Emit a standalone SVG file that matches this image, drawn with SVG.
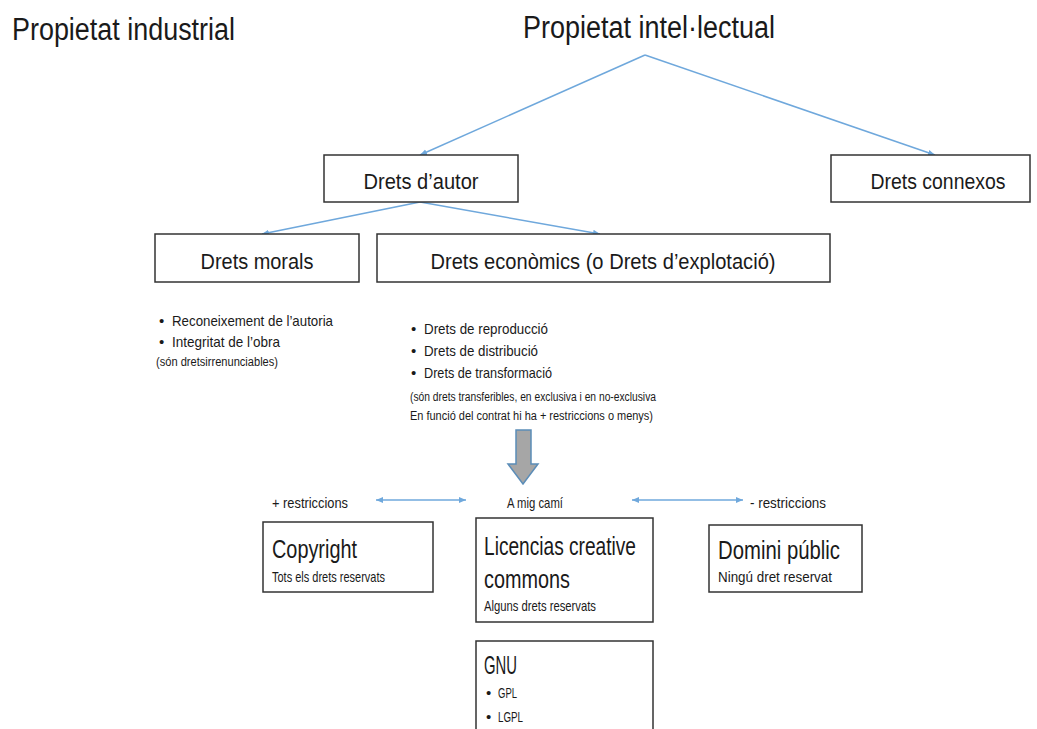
<svg xmlns="http://www.w3.org/2000/svg" width="1037" height="729" viewBox="0 0 1037 729">
<style>
text{font-family:"Liberation Sans",Arial,sans-serif;fill:#1a1a1a}
.t30{font-size:31px}
.t20{font-size:22px}
.t24{font-size:26px}
.t14{font-size:15px}
.t12{font-size:12.5px}
.box{fill:#fff;stroke:#333;stroke-width:1.5}
.con{stroke:#6fa8dc;stroke-width:1.5;fill:none}
</style>
<defs>
<marker id="ah" markerWidth="8" markerHeight="8" refX="7" refY="4" orient="auto" markerUnits="userSpaceOnUse">
<path d="M0,1 L7,4 L0,7 Z" fill="#6fa8dc"/>
</marker>
<marker id="as" markerWidth="8" markerHeight="8" refX="1" refY="4" orient="auto" markerUnits="userSpaceOnUse">
<path d="M8,1 L1,4 L8,7 Z" fill="#6fa8dc"/>
</marker>
</defs>
<g id="titles">
<text class="t30" x="12" y="40" textLength="223" lengthAdjust="spacingAndGlyphs">Propietat industrial</text>
<text class="t30" x="523" y="38" textLength="252" lengthAdjust="spacingAndGlyphs">Propietat intel·lectual</text>
</g>
<g id="connectors">
<polyline class="con" points="420,155 645,55" marker-start="url(#as)"/>
<line class="con" x1="645" y1="55" x2="935" y2="155" marker-end="url(#ah)"/>
<line class="con" x1="420" y1="202" x2="262" y2="234" marker-end="url(#ah)"/>
<line class="con" x1="420" y1="202" x2="600" y2="234" marker-end="url(#ah)"/>
<line class="con" x1="376" y1="500" x2="466" y2="500" marker-start="url(#as)" marker-end="url(#ah)"/>
<line class="con" x1="632" y1="500" x2="743" y2="500" marker-start="url(#as)" marker-end="url(#ah)"/>
<path d="M516,430 H531 V464 H538 L523,484 L508,464 H516 Z" fill="#a6a6a6" stroke="#5b8db8" stroke-width="1.5"/>
</g>
<g id="drets-autor">
<rect class="box" x="324" y="155" width="194" height="47"/>
<text class="t20" x="421" y="189" text-anchor="middle" textLength="115" lengthAdjust="spacingAndGlyphs">Drets d’autor</text>
</g>
<g id="drets-connexos">
<rect class="box" x="831" y="155" width="199" height="47"/>
<text class="t20" x="938" y="189" text-anchor="middle" textLength="135" lengthAdjust="spacingAndGlyphs">Drets connexos</text>
</g>
<g id="drets-morals">
<rect class="box" x="155" y="234" width="204" height="48"/>
<text class="t20" x="257" y="269" text-anchor="middle" textLength="113" lengthAdjust="spacingAndGlyphs">Drets morals</text>
</g>
<g id="drets-economics">
<rect class="box" x="377" y="234" width="453" height="48"/>
<text class="t20" x="603" y="269" text-anchor="middle" textLength="345" lengthAdjust="spacingAndGlyphs">Drets econòmics (o Drets d’explotació)</text>
</g>
<g id="morals-list">
<text class="t14" x="159" y="326">•</text>
<text class="t14" x="172" y="326" textLength="161" lengthAdjust="spacingAndGlyphs">Reconeixement de l’autoria</text>
<text class="t14" x="159" y="347">•</text>
<text class="t14" x="172" y="347" textLength="108" lengthAdjust="spacingAndGlyphs">Integritat de l’obra</text>
<text class="t12" x="156" y="366" textLength="122" lengthAdjust="spacingAndGlyphs">(són dretsirrenunciables)</text>
</g>
<g id="economics-list">
<text class="t14" x="411" y="334">•</text>
<text class="t14" x="424" y="334" textLength="124" lengthAdjust="spacingAndGlyphs">Drets de reproducció</text>
<text class="t14" x="411" y="356">•</text>
<text class="t14" x="424" y="356" textLength="114" lengthAdjust="spacingAndGlyphs">Drets de distribució</text>
<text class="t14" x="411" y="378">•</text>
<text class="t14" x="424" y="378" textLength="128" lengthAdjust="spacingAndGlyphs">Drets de transformació</text>
<text class="t12" x="410" y="401" textLength="246" lengthAdjust="spacingAndGlyphs">(són drets transferibles, en exclusiva i en no-exclusiva</text>
<text class="t12" x="410" y="420" textLength="243" lengthAdjust="spacingAndGlyphs">En funció del contrat hi ha + restriccions o menys)</text>
</g>
<g id="labels">
<text class="t14" x="272" y="508" textLength="76" lengthAdjust="spacingAndGlyphs">+ restriccions</text>
<text class="t14" x="507" y="508" textLength="56" lengthAdjust="spacingAndGlyphs">A mig camí</text>
<text class="t14" x="750" y="508" textLength="76" lengthAdjust="spacingAndGlyphs">- restriccions</text>
</g>
<g id="copyright">
<rect class="box" x="263" y="522" width="170" height="70"/>
<text class="t24" x="272" y="558" textLength="85" lengthAdjust="spacingAndGlyphs">Copyright</text>
<text class="t14" x="272" y="582" textLength="113" lengthAdjust="spacingAndGlyphs">Tots els drets reservats</text>
</g>
<g id="creative-commons">
<rect class="box" x="476" y="518" width="177" height="104"/>
<text class="t24" x="484" y="555" textLength="152" lengthAdjust="spacingAndGlyphs">Licencias creative</text>
<text class="t24" x="484" y="588" textLength="86" lengthAdjust="spacingAndGlyphs">commons</text>
<text class="t14" x="484" y="611" textLength="112" lengthAdjust="spacingAndGlyphs">Alguns drets reservats</text>
</g>
<g id="domini-public">
<rect class="box" x="709" y="525" width="153" height="67"/>
<text class="t24" x="718" y="559" textLength="122" lengthAdjust="spacingAndGlyphs">Domini públic</text>
<text class="t14" x="718" y="582" textLength="114" lengthAdjust="spacingAndGlyphs">Ningú dret reservat</text>
</g>
<g id="gnu">
<rect class="box" x="476" y="641" width="177" height="100"/>
<text class="t24" x="484" y="674" textLength="33" lengthAdjust="spacingAndGlyphs">GNU</text>
<text class="t14" x="486" y="698">•</text>
<text class="t14" x="498" y="698" textLength="19" lengthAdjust="spacingAndGlyphs">GPL</text>
<text class="t14" x="486" y="722">•</text>
<text class="t14" x="498" y="722" textLength="25" lengthAdjust="spacingAndGlyphs">LGPL</text>
</g>
</svg>
